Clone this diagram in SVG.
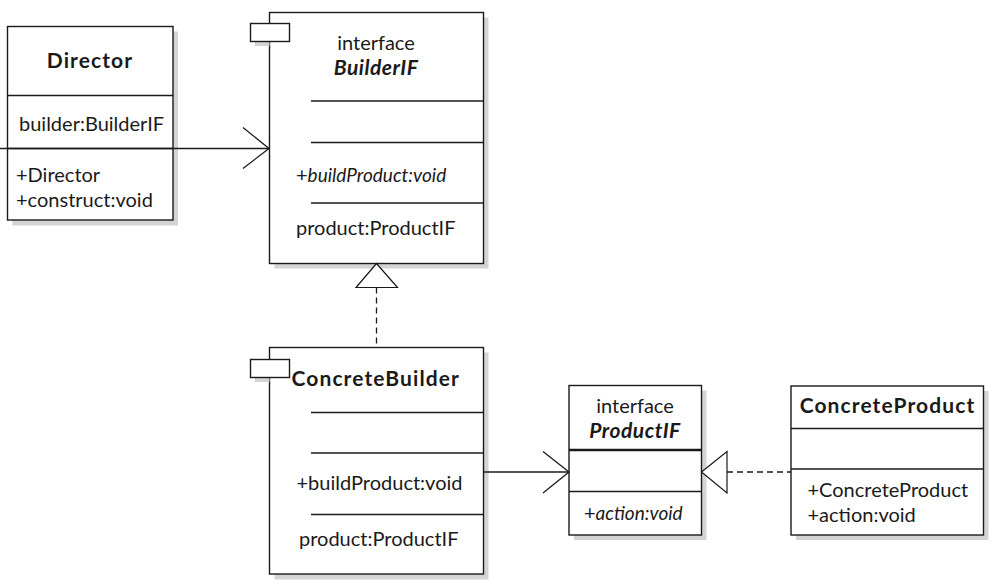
<svg xmlns="http://www.w3.org/2000/svg" width="996" height="585" viewBox="0 0 996 585">
<defs>
<style>
.bg{fill:#ffffff}
.box{fill:#ffffff;stroke:#1a1a1a;stroke-width:1.4}
.sh{fill:#d4d4d4}
.ln{stroke:#1a1a1a;stroke-width:1.3;fill:none}
.thick{stroke:#1a1a1a;stroke-width:2.4;fill:none}
.dash{stroke:#1a1a1a;stroke-width:1.3;fill:none;stroke-dasharray:6,4}
.tri{fill:#ffffff;stroke:#1a1a1a;stroke-width:1.2}
text{font-family:Lato,"Open Sans","Liberation Sans",sans-serif;font-size:20px;fill:#1a1a1a}
.b{font-weight:bold;font-size:21px;letter-spacing:1.1px}
.bi{font-weight:bold;font-style:italic;font-size:21px;letter-spacing:0.5px}
.i{font-style:italic;font-size:19px}
.m{text-anchor:middle}
</style>
</defs>
<rect class="bg" x="0" y="0" width="996" height="585"/>

<g id="Director">
<rect class="sh" x="12.5" y="31.5" width="165.5" height="194"/>
<rect class="box" x="7.5" y="26.5" width="165.5" height="193.5"/>
<line class="ln" x1="7.5" y1="95.5" x2="173" y2="95.5"/>
<line class="ln" x1="7.5" y1="148.5" x2="173" y2="148.5"/>
<text class="b m" x="90" y="68">Director</text>
<text x="19" y="131">builder:BuilderIF</text>
<text x="16" y="181.5">+Director</text>
<text x="16" y="206.5">+construct:void</text>
</g>

<g id="BuilderIF">
<rect class="sh" x="274.5" y="17.5" width="214" height="251"/>
<rect class="box" x="269.5" y="12.5" width="214" height="251"/>
<rect class="sh" x="255" y="41" width="14.5" height="5"/>
<rect class="box" x="250.5" y="23.5" width="39" height="18"/>
<line class="ln" x1="311" y1="101" x2="483.5" y2="101"/>
<line class="ln" x1="311" y1="142.5" x2="483.5" y2="142.5"/>
<line class="ln" x1="311" y1="203" x2="483.5" y2="203"/>
<text class="m" x="376" y="50">interface</text>
<text class="bi m" x="376" y="75">BuilderIF</text>
<text x="296" y="181.5">+<tspan class="i">buildProduct:void</tspan></text>
<text x="296" y="235">product:ProductIF</text>
</g>

<g id="ConcreteBuilder">
<rect class="sh" x="274.5" y="352.5" width="214" height="227"/>
<rect class="box" x="269.5" y="347.5" width="214" height="226.5"/>
<rect class="sh" x="255" y="377" width="14.5" height="5"/>
<rect class="box" x="250.5" y="359.5" width="39" height="18"/>
<line class="ln" x1="311" y1="412.5" x2="483.5" y2="412.5"/>
<line class="ln" x1="311" y1="453" x2="483.5" y2="453"/>
<line class="ln" x1="311" y1="514.5" x2="483.5" y2="514.5"/>
<text class="b" x="291.5" y="386">ConcreteBuilder</text>
<text x="296.5" y="490">+buildProduct:void</text>
<text x="299" y="546">product:ProductIF</text>
</g>

<g id="ProductIF">
<rect class="sh" x="574" y="390.5" width="132.5" height="149.5"/>
<rect class="box" x="569" y="385.5" width="132.5" height="149.5"/>
<line class="thick" x1="569" y1="450" x2="701.5" y2="450"/>
<line class="ln" x1="569" y1="491.5" x2="701.5" y2="491.5"/>
<text class="m" x="635" y="412.5">interface</text>
<text class="bi m" x="635" y="437.5">ProductIF</text>
<text x="584" y="519.5">+<tspan class="i">action:void</tspan></text>
</g>

<g id="ConcreteProduct">
<rect class="sh" x="796" y="391" width="192.5" height="149"/>
<rect class="box" x="791" y="386" width="192.5" height="149"/>
<line class="ln" x1="791" y1="428.5" x2="983.5" y2="428.5"/>
<line class="ln" x1="791" y1="469" x2="983.5" y2="469"/>
<text class="b m" x="887.5" y="412.5">ConcreteProduct</text>
<text x="807.5" y="496.5">+ConcreteProduct</text>
<text x="807.5" y="521.5">+action:void</text>
</g>

<g id="connectors">
<line class="ln" x1="0" y1="148.5" x2="269" y2="148.5"/>
<polyline class="ln" points="243,127.5 269,148.5 243,168.5"/>
<line class="dash" x1="376.5" y1="287.5" x2="376.5" y2="347.5"/>
<polygon class="tri" points="376.5,263.5 356,287.5 397.5,287.5"/>
<line class="ln" x1="483.5" y1="472" x2="569" y2="472"/>
<polyline class="ln" points="543,451.5 569,472 543,493"/>
<line class="dash" x1="727" y1="472" x2="791" y2="472"/>
<polygon class="tri" points="701.5,472 727,451.5 727,493"/>
</g>
</svg>
